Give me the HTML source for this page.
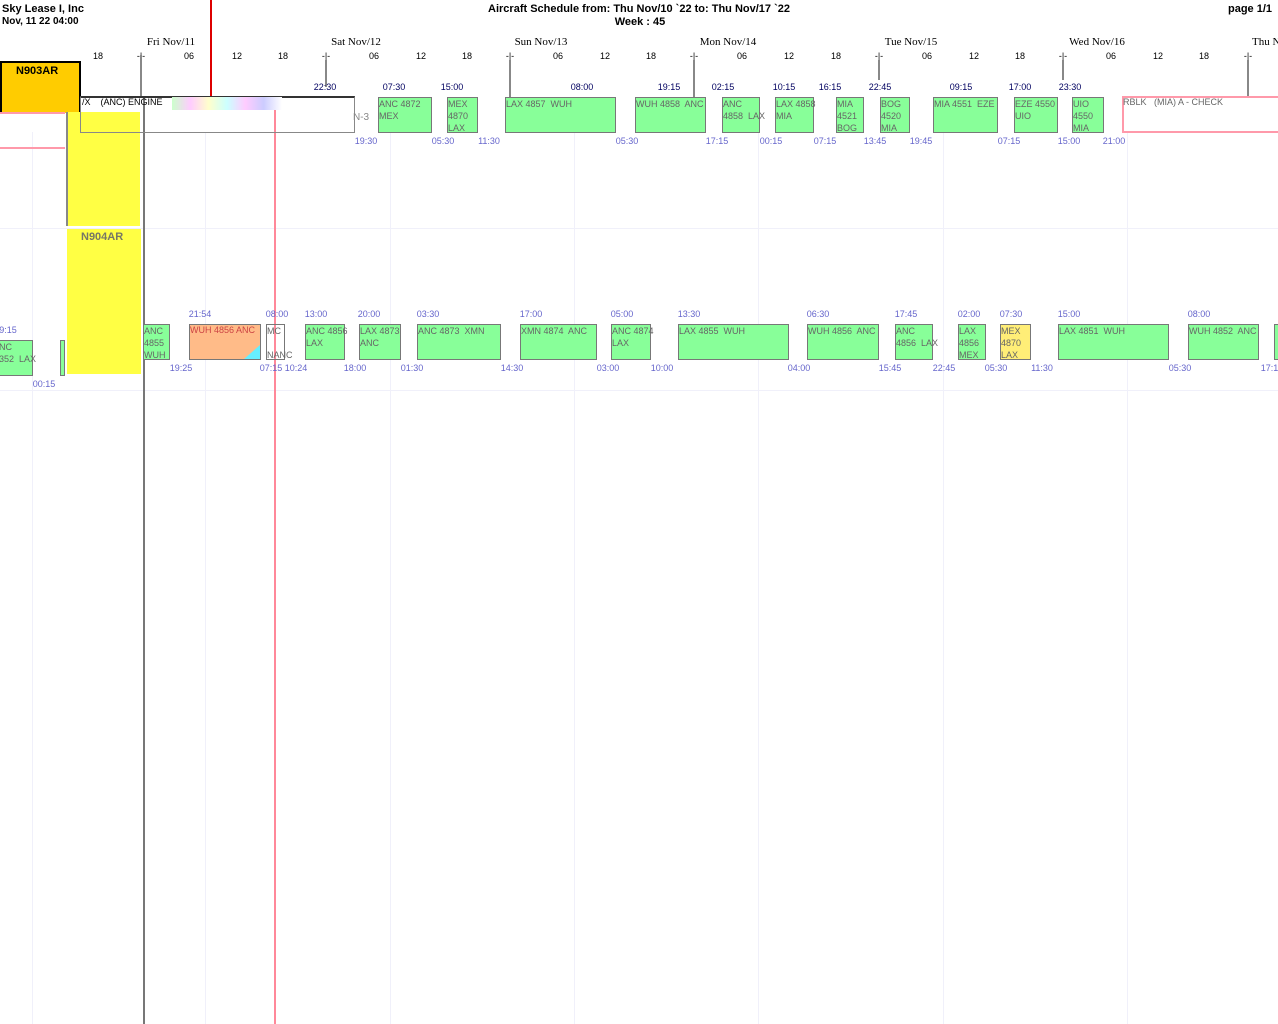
<!DOCTYPE html>
<html><head><meta charset="utf-8"><style>
body{margin:0;width:1278px;height:1024px;position:relative;overflow:hidden;background:#fff;font-family:"Liberation Sans",sans-serif}
div,span{position:absolute;box-sizing:border-box}
.b{font-weight:bold;font-size:11px;color:#000}
.d{font-family:"Liberation Serif",serif;font-size:11px;color:#000;transform:translateX(-50%);white-space:nowrap;top:36px}
.h{font-size:9px;color:#000;transform:translateX(-50%);top:51px}
.tk{width:2px;background:#888;top:55px;height:42px}
.t1{font-size:9px;color:#000060;transform:translateX(-50%);top:82px;white-space:nowrap}
.bt{font-size:9px;color:#6666cc;transform:translateX(-50%);white-space:nowrap}
.g{background:#88ff99;border:1px solid #777;font-size:9px;color:#666;line-height:12px;white-space:pre;overflow:visible}
.vl{width:1px;background:#f0f0fa;top:132px;height:892px}
</style></head><body>
<div class="b" style="left:2px;top:3px">Sky Lease I, Inc</div>
<div class="b" style="left:2px;top:16px;font-size:10px">Nov, 11 22 04:00</div>
<div class="b" style="left:639px;top:3px;transform:translateX(-50%);white-space:nowrap">Aircraft Schedule from: Thu Nov/10 `22 to: Thu Nov/17 `22</div>
<div class="b" style="left:640px;top:16px;transform:translateX(-50%)">Week : 45</div>
<div class="b" style="left:1228px;top:3px">page 1/1</div>

<!-- faint grid -->
<div class="vl" style="left:205px"></div><div class="vl" style="left:390px"></div><div class="vl" style="left:574px"></div><div class="vl" style="left:758px"></div><div class="vl" style="left:943px"></div><div class="vl" style="left:1127px"></div><div class="vl" style="left:32px"></div>
<div style="left:0;top:228px;width:1278px;height:1px;background:#f0f0fa"></div>
<div style="left:0;top:390px;width:1278px;height:1px;background:#f0f0fa"></div>

<div class="d" style="left:171px">Fri Nov/11</div><div class="d" style="left:356px">Sat Nov/12</div><div class="d" style="left:541px">Sun Nov/13</div><div class="d" style="left:728px">Mon Nov/14</div><div class="d" style="left:911px">Tue Nov/15</div><div class="d" style="left:1097px">Wed Nov/16</div><div class="d" style="left:1252px;transform:none">Thu N</div>

<div class="h" style="left:98px">18</div><div class="h" style="left:141px">-|-</div><div class="h" style="left:189px">06</div><div class="h" style="left:237px">12</div><div class="h" style="left:283px">18</div>
<div class="h" style="left:326px">-|-</div><div class="h" style="left:374px">06</div><div class="h" style="left:421px">12</div><div class="h" style="left:467px">18</div>
<div class="h" style="left:510px">-|-</div><div class="h" style="left:558px">06</div><div class="h" style="left:605px">12</div><div class="h" style="left:651px">18</div>
<div class="h" style="left:694px">-|-</div><div class="h" style="left:742px">06</div><div class="h" style="left:789px">12</div><div class="h" style="left:836px">18</div>
<div class="h" style="left:879px">-|-</div><div class="h" style="left:927px">06</div><div class="h" style="left:974px">12</div><div class="h" style="left:1020px">18</div>
<div class="h" style="left:1063px">-|-</div><div class="h" style="left:1111px">06</div><div class="h" style="left:1158px">12</div><div class="h" style="left:1204px">18</div><div class="h" style="left:1248px">-|-</div>
<div class="tk" style="left:140px"></div><div class="tk" style="left:325px;height:27px;top:60px"></div><div class="tk" style="left:509px;height:37px;top:60px"></div><div class="tk" style="left:693px;top:60px;height:37px"></div><div class="tk" style="left:878px;top:60px;height:20px"></div><div class="tk" style="left:1062px;top:60px;height:20px"></div><div class="tk" style="left:1247px;top:60px;height:37px"></div>
<div style="left:210px;top:0;width:2px;height:97px;background:#d00"></div>

<!-- left panel -->
<div style="left:0;top:61px;width:81px;height:52px;background:#fc0;border:2px solid #000;border-bottom:none"></div>
<div class="b" style="left:16px;top:65px">N903AR</div>
<div style="left:0;top:112px;width:65px;height:2px;background:#f9a"></div>
<div style="left:0;top:147px;width:65px;height:2px;background:#f9a"></div>
<div style="left:66px;top:112px;width:2px;height:114px;background:#888"></div>
<div style="left:68px;top:112px;width:72px;height:114px;background:#ff4"></div>
<div style="left:67px;top:229px;width:74px;height:145px;background:#ff4"></div>
<div class="b" style="left:81px;top:231px;color:#776">N904AR</div>
<div style="left:143px;top:97px;width:2px;height:927px;background:#777"></div>
<div style="left:274px;top:97px;width:2px;height:927px;background:#f89"></div>

<!-- row1 -->
<div style="left:80px;top:96px;width:275px;height:37px;border:1px solid #888;border-top:2px solid #333;background:transparent"></div>
<div style="left:82px;top:97px;font-size:9px;color:#000;white-space:nowrap">/X &nbsp;&nbsp;&nbsp;(ANC) ENGINE</div>
<div style="left:172px;top:97px;width:110px;height:13px;background:linear-gradient(90deg,#cfc,#fcf,#ffc,#cff,#fcf,#ccf,#fff)"></div>
<div style="left:353px;top:112px;font-size:10px;color:#888">N-3</div>
<div class="g" style="left:378px;top:97px;width:54px;height:36px">ANC 4872
MEX</div>
<div class="g" style="left:447px;top:97px;width:31px;height:36px">MEX
4870
LAX</div>
<div class="g" style="left:505px;top:97px;width:111px;height:36px">LAX 4857  WUH</div>
<div class="g" style="left:635px;top:97px;width:71px;height:36px">WUH 4858  ANC</div>
<div class="g" style="left:722px;top:97px;width:38px;height:36px">ANC
4858  LAX</div>
<div class="g" style="left:775px;top:97px;width:39px;height:36px">LAX 4858
MIA</div>
<div class="g" style="left:836px;top:97px;width:28px;height:36px">MIA
4521
BOG</div>
<div class="g" style="left:880px;top:97px;width:30px;height:36px">BOG
4520
MIA</div>
<div class="g" style="left:933px;top:97px;width:65px;height:36px">MIA 4551  EZE</div>
<div class="g" style="left:1014px;top:97px;width:44px;height:36px">EZE 4550
UIO</div>
<div class="g" style="left:1072px;top:97px;width:32px;height:36px">UIO
4550
MIA</div>
<div style="left:1122px;top:96px;width:160px;height:37px;border:2px solid #f9a"></div>
<div style="left:1123px;top:97px;font-size:9px;color:#666;white-space:nowrap">RBLK &nbsp;&nbsp;(MIA) A - CHECK</div>

<div class="t1" style="left:325px">22:30</div><div class="t1" style="left:394px">07:30</div><div class="t1" style="left:452px">15:00</div><div class="t1" style="left:582px">08:00</div><div class="t1" style="left:669px">19:15</div><div class="t1" style="left:723px">02:15</div><div class="t1" style="left:784px">10:15</div><div class="t1" style="left:830px">16:15</div><div class="t1" style="left:880px">22:45</div><div class="t1" style="left:961px">09:15</div><div class="t1" style="left:1020px">17:00</div><div class="t1" style="left:1070px">23:30</div>
<div class="bt" style="top:136px;left:366px">19:30</div><div class="bt" style="top:136px;left:443px">05:30</div><div class="bt" style="top:136px;left:489px">11:30</div><div class="bt" style="top:136px;left:627px">05:30</div><div class="bt" style="top:136px;left:717px">17:15</div><div class="bt" style="top:136px;left:771px">00:15</div><div class="bt" style="top:136px;left:825px">07:15</div><div class="bt" style="top:136px;left:875px">13:45</div><div class="bt" style="top:136px;left:921px">19:45</div><div class="bt" style="top:136px;left:1009px">07:15</div><div class="bt" style="top:136px;left:1069px">15:00</div><div class="bt" style="top:136px;left:1114px">21:00</div>

<!-- row2 -->
<div class="g" style="left:-2px;top:340px;width:35px;height:36px">NC
352  LAX</div>
<div class="g" style="left:60px;top:340px;width:5px;height:36px"></div>
<div class="g" style="left:143px;top:324px;width:27px;height:36px">ANC
4855
WUH</div>
<div style="left:189px;top:324px;width:72px;height:36px;background:#fb8;border:1px solid #777;font-size:9px;color:#c44;white-space:nowrap;overflow:hidden">WUH 4856  ANC<div style="right:0;bottom:0;width:0;height:0;border-left:16px solid transparent;border-bottom:14px solid #6ef"></div></div>
<div style="left:266px;top:324px;width:19px;height:36px;border:1px solid #777;font-size:9px;color:#666;line-height:12px;white-space:pre">MC

NANC</div>
<div class="g" style="left:305px;top:324px;width:40px;height:36px">ANC 4856
LAX</div>
<div class="g" style="left:359px;top:324px;width:42px;height:36px">LAX 4873
ANC</div>
<div class="g" style="left:417px;top:324px;width:84px;height:36px">ANC 4873  XMN</div>
<div class="g" style="left:520px;top:324px;width:77px;height:36px">XMN 4874  ANC</div>
<div class="g" style="left:611px;top:324px;width:40px;height:36px">ANC 4874
LAX</div>
<div class="g" style="left:678px;top:324px;width:111px;height:36px">LAX 4855  WUH</div>
<div class="g" style="left:807px;top:324px;width:72px;height:36px">WUH 4856  ANC</div>
<div class="g" style="left:895px;top:324px;width:38px;height:36px">ANC
4856  LAX</div>
<div class="g" style="left:958px;top:324px;width:28px;height:36px">LAX
4856
MEX</div>
<div class="g" style="left:1000px;top:324px;width:31px;height:36px;background:#fe7">MEX
4870
LAX</div>
<div class="g" style="left:1058px;top:324px;width:111px;height:36px">LAX 4851  WUH</div>
<div class="g" style="left:1188px;top:324px;width:71px;height:36px">WUH 4852  ANC</div>
<div class="g" style="left:1274px;top:324px;width:10px;height:36px"></div>

<div class="bt" style="top:325px;left:8px">9:15</div><div class="bt" style="top:309px;left:200px">21:54</div><div class="bt" style="top:309px;left:277px">08:00</div><div class="bt" style="top:309px;left:316px">13:00</div><div class="bt" style="top:309px;left:369px">20:00</div><div class="bt" style="top:309px;left:428px">03:30</div><div class="bt" style="top:309px;left:531px">17:00</div><div class="bt" style="top:309px;left:622px">05:00</div><div class="bt" style="top:309px;left:689px">13:30</div><div class="bt" style="top:309px;left:818px">06:30</div><div class="bt" style="top:309px;left:906px">17:45</div><div class="bt" style="top:309px;left:969px">02:00</div><div class="bt" style="top:309px;left:1011px">07:30</div><div class="bt" style="top:309px;left:1069px">15:00</div><div class="bt" style="top:309px;left:1199px">08:00</div>
<div class="bt" style="top:379px;left:44px">00:15</div><div class="bt" style="top:363px;left:181px">19:25</div><div class="bt" style="top:363px;left:271px">07:15</div><div class="bt" style="top:363px;left:296px">10:24</div><div class="bt" style="top:363px;left:355px">18:00</div><div class="bt" style="top:363px;left:412px">01:30</div><div class="bt" style="top:363px;left:512px">14:30</div><div class="bt" style="top:363px;left:608px">03:00</div><div class="bt" style="top:363px;left:662px">10:00</div><div class="bt" style="top:363px;left:799px">04:00</div><div class="bt" style="top:363px;left:890px">15:45</div><div class="bt" style="top:363px;left:944px">22:45</div><div class="bt" style="top:363px;left:996px">05:30</div><div class="bt" style="top:363px;left:1042px">11:30</div><div class="bt" style="top:363px;left:1180px">05:30</div><div class="bt" style="top:363px;left:1272px">17:15</div>
</body></html>
